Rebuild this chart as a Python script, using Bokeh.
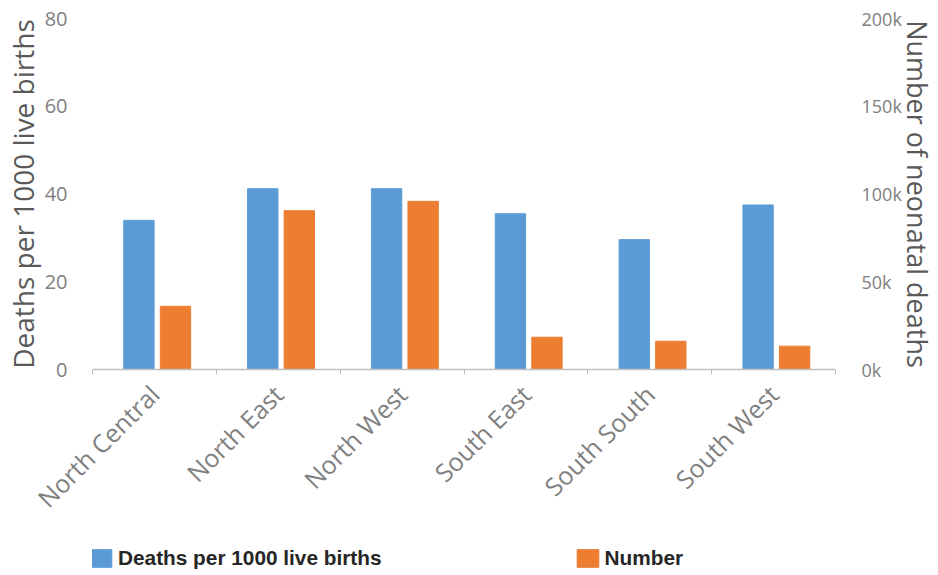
from bokeh.plotting import figure
from bokeh.layouts import column
from bokeh.models import (Range1d, LinearAxis, FixedTicker, Legend, LegendItem,
                          ColumnDataSource)
from bokeh.transform import dodge
from bokeh.embed import file_html
from bokeh.resources import INLINE
from math import pi

regions = ["North Central", "North East", "North West", "South East", "South South", "South West"]
rate = [34, 41.2, 41.2, 35.5, 29.6, 37.5]
number = [36000, 90500, 95800, 18400, 16100, 13300]
left_ticks = [0, 20, 40, 60, 80]
right_ticks = [0, 50000, 100000, 150000, 200000]
right_labels = ["0k", "50k", "100k", "150k", "200k"]
series_names = ["Deaths per 1000 live births", "Number"]
series_colors = ["#5B9BD5", "#ED7D31"]

src = ColumnDataSource(dict(idx=[i + 0.5 for i in range(len(regions))], rate=rate, number=number))

GRAY = "#808080"
TITLE = "#595959"
FONT = "Open Sans"

p = figure(width=938, height=530, output_backend="svg", toolbar_location=None,
           x_range=Range1d(0, len(regions)), y_range=Range1d(0, 80),
           min_border_left=92, min_border_right=103, min_border_top=18, min_border_bottom=161,
           x_axis_location=None, y_axis_location=None)
p.extra_y_ranges = {"num": Range1d(0, 200000)}
p.grid.visible = False
p.outline_line_color = None

p.vbar(x=dodge("idx", -0.125), top="rate", width=0.245, source=src, color=series_colors[0])
p.vbar(x=dodge("idx", 0.17), top="number", width=0.245, source=src, color=series_colors[1],
       y_range_name="num")

# bottom axis
xa = LinearAxis(ticker=FixedTicker(ticks=[i + 0.5 for i in range(len(regions))],
                                   minor_ticks=list(range(len(regions) + 1))))
xa.major_label_overrides = {i + 0.5: r for i, r in enumerate(regions)}
xa.major_label_orientation = pi / 4
xa.major_tick_line_color = None
xa.minor_tick_line_color = "#BFBFBF"
xa.minor_tick_out = 5
xa.minor_tick_in = 0
xa.axis_line_color = "#BFBFBF"
xa.axis_line_width = 1.5
xa.major_label_text_font = FONT
xa.major_label_text_font_size = "25px"
xa.major_label_text_color = GRAY
xa.major_label_standoff = 14
p.add_layout(xa, "below")

# left axis
ya = LinearAxis(ticker=FixedTicker(ticks=left_ticks), axis_label="Deaths per 1000 live births")
ya.axis_line_color = None
ya.major_tick_line_color = None
ya.minor_tick_line_color = None
ya.major_label_text_font = FONT
ya.major_label_text_font_size = "20px"
ya.major_label_text_color = GRAY
ya.major_label_standoff = 19
ya.axis_label_text_font = FONT
ya.axis_label_text_font_size = "28px"
ya.axis_label_text_font_style = "normal"
ya.axis_label_text_color = TITLE
ya.axis_label_standoff = 0
p.add_layout(ya, "left")

# right axis
ra = LinearAxis(y_range_name="num", ticker=FixedTicker(ticks=right_ticks),
                axis_label="Number of neonatal deaths")
ra.major_label_overrides = {t: l for t, l in zip(right_ticks, right_labels)}
ra.axis_line_color = None
ra.major_tick_line_color = None
ra.minor_tick_line_color = None
ra.major_label_text_font = FONT
ra.major_label_text_font_size = "18px"
ra.major_label_text_color = GRAY
ra.major_label_standoff = 20
ra.axis_label_text_font = FONT
ra.axis_label_text_font_size = "27px"
ra.axis_label_text_font_style = "normal"
ra.axis_label_text_color = TITLE
ra.axis_label_standoff = -6
p.add_layout(ra, "right")

# legend strip (hidden renderers on the real data provide the swatches)
lf = figure(width=938, height=45, output_backend="svg", toolbar_location=None,
            x_range=Range1d(0, 1), y_range=Range1d(0, 1),
            min_border_left=0, min_border_right=0, min_border_top=0, min_border_bottom=0,
            x_axis_location=None, y_axis_location=None)
lf.grid.visible = False
lf.outline_line_color = None
r1 = lf.vbar(x="idx", top="rate", width=0.1, source=src, color=series_colors[0], visible=False)
r2 = lf.vbar(x="idx", top="number", width=0.1, source=src, color=series_colors[1], visible=False)
legend = Legend(items=[LegendItem(label=series_names[0], renderers=[r1]),
                       LegendItem(label=series_names[1], renderers=[r2])],
                orientation="horizontal", location=(-5, 5), spacing=192,
                glyph_width=27, glyph_height=22, label_standoff=4,
                label_text_font="Liberation Sans", label_text_font_size="20.8px",
                label_text_font_style="bold", label_text_color="#262626",
                inactive_fill_alpha=0,
                border_line_color=None, background_fill_alpha=0, padding=0, margin=0)
lf.add_layout(legend)

open("out.html", "w").write(file_html(column(p, lf, spacing=0), INLINE))
